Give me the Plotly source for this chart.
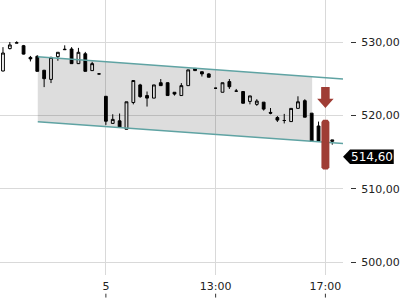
import plotly.graph_objects as go

# ---------------- data ----------------
tick_idx = [15, 31, 47]
tick_labels = ["5", "13:00", "17:00"]

opens = [526.05, 529.10, 529.85, 529.50, 527.90, 528.05, 526.15, 524.90, 528.00, 528.95,
         529.05, 527.05, 528.40, 526.10, 525.65, 522.60, 518.90, 519.25, 518.10, 521.75,
         524.15, 522.70, 522.35, 524.45, 524.45, 523.15, 522.70, 524.05, 526.40, 525.95,
         525.65, 523.70, 523.15, 524.60, 523.30, 523.25, 521.90, 521.50, 521.80, 520.40,
         519.70, 519.30, 519.15, 520.95, 522.00, 520.30, 518.55, 517.65, 516.45]
closes = [528.50, 529.60, 529.90, 528.35, 527.70, 526.00, 525.00, 527.90, 528.60, 529.00,
          527.05, 528.60, 526.00, 527.05, 525.65, 519.20, 519.45, 518.35, 521.85, 524.75,
          522.55, 522.35, 524.15, 524.05, 522.70, 522.90, 524.05, 526.20, 526.10, 525.65,
          525.20, 523.70, 524.45, 523.90, 523.30, 521.65, 522.65, 521.95, 520.85, 520.30,
          519.35, 519.30, 520.95, 521.85, 519.75, 516.45, 516.45, 515.50, 516.65]
highs = [529.30, 530.00, 530.10, 529.60, 528.10, 528.20, 526.20, 528.00, 528.60, 529.55,
         529.30, 529.20, 528.65, 527.30, 525.70, 522.60, 520.15, 520.25, 521.85, 524.75,
         524.30, 523.25, 524.15, 524.95, 524.50, 523.15, 524.40, 526.20, 526.40, 525.95,
         525.75, 523.75, 524.45, 524.95, 523.60, 523.25, 522.65, 522.20, 521.80, 521.00,
         519.90, 520.20, 520.95, 522.60, 522.20, 520.30, 519.15, 519.00, 516.65]
lows = [526.00, 529.00, 529.85, 528.30, 527.35, 526.00, 523.85, 524.40, 527.45, 528.95,
        527.05, 527.00, 526.00, 526.10, 525.60, 518.70, 518.90, 518.35, 518.10, 521.50,
        522.40, 521.20, 522.35, 524.05, 522.70, 522.70, 522.70, 524.05, 526.10, 525.30,
        525.20, 523.65, 523.15, 523.60, 523.30, 521.65, 521.50, 521.30, 520.65, 520.15,
        519.10, 518.90, 519.15, 520.95, 519.75, 516.45, 516.45, 514.40, 516.00]
idx = list(range(len(opens)))

price_ticks = [500, 510, 520, 530]
price_tick_labels = ["500,00", "510,00", "520,00", "530,00"]

last_price = 514.60
last_price_label = "514,60"

# trend channel anchors (candle index, price)
channel_x = [5.07, 49.57]
channel_top = [528.00, 524.95]
channel_bottom = [519.13, 516.16]
channel_fill_end = 45.07

# signal highlight
highlight_idx = 47
highlight_range = [512.6, 519.4]
arrow_levels = [523.85, 522.25, 521.0]  # shaft top, head base, tip

# ---------------- helpers ----------------
def interp(xs, ys, x):
    return ys[0] + (ys[1] - ys[0]) * (x - xs[0]) / (xs[1] - xs[0])

x_range = [-0.435, 49.57]
y_range = [498.23, 535.73]

fig = go.Figure()

# channel fill
fx = [channel_x[0], channel_fill_end, channel_fill_end, channel_x[0], channel_x[0]]
fy = [interp(channel_x, channel_top, channel_x[0]), interp(channel_x, channel_top, channel_fill_end),
      interp(channel_x, channel_bottom, channel_fill_end), interp(channel_x, channel_bottom, channel_x[0]),
      interp(channel_x, channel_top, channel_x[0])]
fig.add_trace(go.Scatter(x=fx, y=fy, fill="toself", fillcolor="rgba(0,0,0,0.135)",
                         line=dict(width=0), mode="lines", hoverinfo="skip", showlegend=False))

# channel lines
for ys in (channel_top, channel_bottom):
    fig.add_trace(go.Scatter(x=channel_x, y=ys, mode="lines",
                             line=dict(color="#5fa3a3", width=1.4),
                             hoverinfo="skip", showlegend=False))

# highlight bar
red = "#9f3d35"
hx = highlight_idx
hw, cx, cy = 0.58, 0.25, 0.3
bot, top = highlight_range
bx = [hx - hw + cx, hx + hw - cx, hx + hw, hx + hw, hx + hw - cx, hx - hw + cx, hx - hw, hx - hw, hx - hw + cx]
by = [top, top, top - cy, bot + cy, bot, bot, bot + cy, top - cy, top]
fig.add_trace(go.Scatter(x=bx, y=by, fill="toself", fillcolor=red, line=dict(width=0),
                         mode="lines", hoverinfo="skip", showlegend=False))

# arrow
s_top, h_base, tip = arrow_levels
ax = [hx - 0.62, hx + 0.62, hx + 0.62, hx + 1.2, hx, hx - 1.2, hx - 0.62, hx - 0.62]
ay = [s_top, s_top, h_base, h_base, tip, h_base, h_base, s_top]
fig.add_trace(go.Scatter(x=ax, y=ay, fill="toself", fillcolor=red, line=dict(width=0),
                         mode="lines", hoverinfo="skip", showlegend=False))

# candles
fig.add_trace(go.Candlestick(
    x=idx, open=opens, high=highs, low=lows, close=closes,
    increasing=dict(fillcolor="white", line=dict(color="black", width=1)),
    decreasing=dict(fillcolor="black", line=dict(color="black", width=1)),
    whiskerwidth=0, showlegend=False, hoverinfo="skip"))

# last price label
tip_x = 0.9801
fig.add_shape(type="path", xref="paper", yref="y",
              path=f"M {tip_x},{last_price - 0.25} L 1.0,{last_price + 0.75} L 1.125,{last_price + 0.75} "
                   f"L 1.125,{last_price - 1.25} L 1.0,{last_price - 1.25} Z",
              fillcolor="black", line=dict(width=0), layer="above")
fig.add_annotation(x=1.0625, xref="paper", y=last_price - 0.25, yref="y", text=last_price_label,
                   showarrow=False, xanchor="center", yanchor="middle",
                   font=dict(color="white", size=12, family="DejaVu Sans"))

# small ticks under x labels
for t in tick_idx:
    fig.add_shape(type="line", xref="x", yref="paper", x0=t, x1=t, y0=-0.068, y1=-0.082,
                  line=dict(color="#333", width=1))

fig.update_layout(
    width=400, height=300,
    margin=dict(l=0, r=48, t=0, b=25),
    paper_bgcolor="white", plot_bgcolor="white",
    boxgap=0.42,
    font=dict(family="DejaVu Sans", size=11, color="#222"),
    xaxis=dict(domain=[0, 0.9801], range=x_range, tickvals=tick_idx, ticktext=tick_labels,
               showgrid=True, gridcolor="#d9d9d9", gridwidth=1, zeroline=False,
               rangeslider=dict(visible=False), ticks="", showline=False,
               ticklabelstandoff=3,
               tickfont=dict(size=11, color="#222")),
    yaxis=dict(range=y_range, side="right", anchor="free", position=1.0,
               tickvals=price_ticks, ticktext=price_tick_labels,
               ticks="outside", ticklen=5, tickcolor="#333", tickwidth=1,
               ticklabelstandoff=3,
               showgrid=True, gridcolor="#d9d9d9", gridwidth=1, zeroline=False, showline=False,
               tickfont=dict(size=11, color="#222")),
)

fig.write_html("out.html")
